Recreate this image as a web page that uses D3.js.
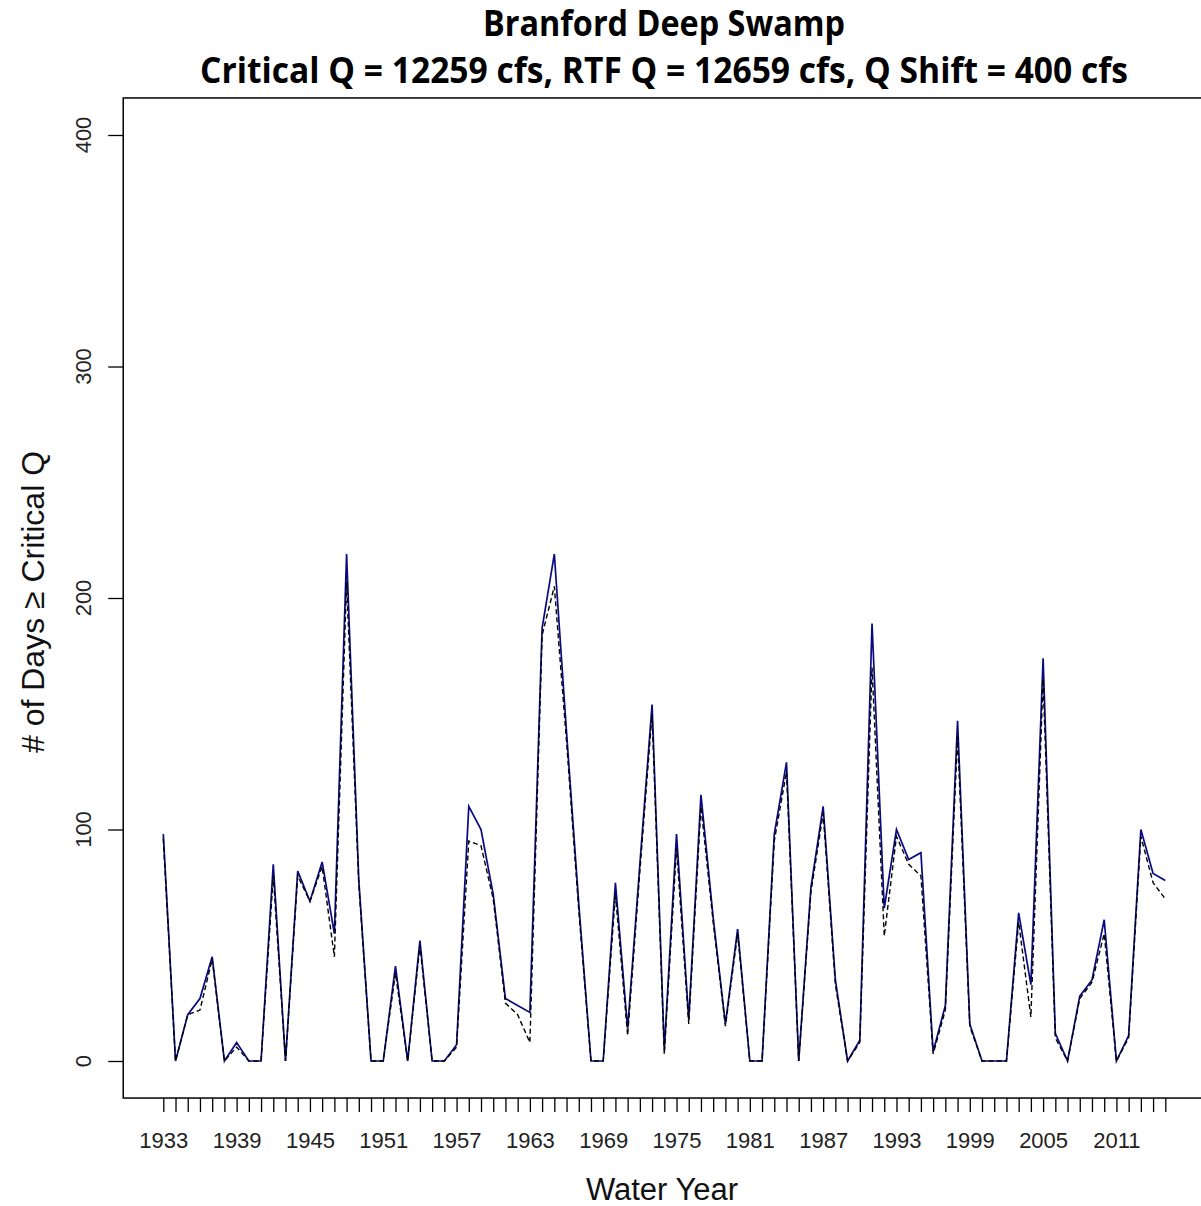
<!DOCTYPE html>
<html>
<head>
<meta charset="utf-8">
<script src="https://cdn.jsdelivr.net/npm/d3@7"></script>
<style>
    body { margin: 0; background: #fff; }
    svg { display: block; }
</style>
</head>
<body>
<script>
// water years on the x axis
const years = [
    1933, 1934, 1935, 1936, 1937, 1938, 1939, 1940, 1941, 1942,
    1943, 1944, 1945, 1946, 1947, 1948, 1949, 1950, 1951, 1952,
    1953, 1954, 1955, 1956, 1957, 1958, 1959, 1960, 1961, 1962,
    1963, 1964, 1965, 1966, 1967, 1968, 1969, 1970, 1971, 1972,
    1973, 1974, 1975, 1976, 1977, 1978, 1979, 1980, 1981, 1982,
    1983, 1984, 1985, 1986, 1987, 1988, 1989, 1990, 1991, 1992,
    1993, 1994, 1995, 1996, 1997, 1998, 1999, 2000, 2001, 2002,
    2003, 2004, 2005, 2006, 2007, 2008, 2009, 2010, 2011, 2012,
    2013, 2014, 2015
];

// days >= critical Q (solid blue line)
const baseDays = [
    98, 0, 20, 27, 45, 0, 8, 0, 0, 85,
    0, 82, 69, 86, 55, 219, 78, 0, 0, 41,
    0, 52, 0, 0, 7, 110, 100, 72, 27, 24,
    21, 187, 219, 142, 68, 0, 0, 77, 14, 85,
    154, 5, 98, 18, 115, 62, 16, 57, 0, 0,
    98, 129, 0, 75, 110, 35, 0, 9, 189, 66,
    100, 87, 90, 4, 24, 147, 16, 0, 0, 0,
    64, 33, 174, 12, 0, 28, 35, 61, 0, 11,
    100, 81, 78
];

// days >= critical Q with the RTF shift (dashed black line)
const shiftDays = [
    96, 0, 20, 22, 44, 0, 6, 0, 0, 80,
    0, 80, 69, 84, 45, 207, 76, 0, 0, 38,
    0, 50, 0, 0, 6, 95, 93, 70, 25, 20,
    8, 184, 205, 138, 65, 0, 0, 72, 11, 82,
    150, 3, 92, 16, 110, 60, 15, 55, 0, 0,
    95, 125, 0, 73, 107, 33, 0, 8, 170, 54,
    97, 85, 80, 3, 22, 140, 15, 0, 0, 0,
    60, 19, 165, 10, 0, 27, 34, 55, 0, 10,
    97, 77, 70
];

const yTicks = [0, 100, 200, 300, 400];
const labelYears = [1933, 1939, 1945, 1951, 1957, 1963, 1969, 1975, 1981, 1987, 1993, 1999, 2005, 2011];

const width = 1201;
const height = 1206;

const svg = d3.select('body').append('svg')
    .attr('width', width)
    .attr('height', height);

const x = d3.scaleLinear().domain([1933, 2015]).range([163.3, 1165.3]);
const y = d3.scaleLinear().domain([0, 400]).range([1061, 135]);

// R style 4% padding around the data range
const padX = (2015 - 1933) * 0.04;
const padY = 400 * 0.04;
const boxLeft = x(1933 - padX), boxRight = x(2015 + padX);
const boxTop = y(400 + padY), boxBottom = y(-padY);

// plot box
svg.append('rect')
    .attr('x', boxLeft)
    .attr('y', boxTop)
    .attr('width', boxRight - boxLeft)
    .attr('height', boxBottom - boxTop)
    .attr('fill', 'none')
    .attr('stroke', '#000')
    .attr('stroke-width', 1.5);

// x axis, one tick per year, a label every 6 years
const xAxis = svg.append('g')
    .attr('transform', `translate(0,${boxBottom})`)
    .call(d3.axisBottom(x)
        .tickValues(years)
        .tickSize(14)
        .tickFormat(d => labelYears.includes(d) ? String(d) : ''));
xAxis.select('.domain').remove();
xAxis.selectAll('line').attr('stroke', '#000').attr('stroke-width', 1.3);
xAxis.selectAll('text')
    .attr('y', 50)
    .attr('dy', 0)
    .attr('fill', '#222')
    .style('font-family', 'Liberation Sans, Arial, sans-serif')
    .style('font-size', '22px');

// y axis with rotated labels
const yAxis = svg.append('g')
    .attr('transform', `translate(${boxLeft},0)`)
    .call(d3.axisLeft(y).tickValues(yTicks).tickSize(15).tickFormat(''));
yAxis.select('.domain').remove();
yAxis.selectAll('line').attr('stroke', '#000').attr('stroke-width', 1.3);

svg.append('g').selectAll('text')
    .data(yTicks)
    .enter().append('text')
    .attr('transform', d => `translate(91,${y(d)}) rotate(-90)`)
    .attr('text-anchor', 'middle')
    .attr('fill', '#222')
    .style('font-family', 'Liberation Sans, Arial, sans-serif')
    .style('font-size', '22px')
    .text(d => d);

// lines
const line = vals => d3.line()
    .x((d, i) => x(years[i]))
    .y(d => y(d))(vals);

svg.append('path')
    .attr('d', line(baseDays))
    .attr('fill', 'none')
    .attr('stroke', '#0a0a80')
    .attr('stroke-width', 1.7);

svg.append('path')
    .attr('d', line(shiftDays))
    .attr('fill', 'none')
    .attr('stroke', '#000')
    .attr('stroke-width', 1.4)
    .attr('stroke-dasharray', '5,3');

// titles
svg.append('text')
    .attr('x', 664)
    .attr('y', 36)
    .attr('text-anchor', 'middle')
    .attr('textLength', 362)
    .attr('lengthAdjust', 'spacingAndGlyphs')
    .style('font-family', 'Liberation Sans Narrow, Open Sans, sans-serif')
    .style('font-weight', 'bold')
    .style('font-size', '35px')
    .text('Branford Deep Swamp');

svg.append('text')
    .attr('x', 664)
    .attr('y', 83)
    .attr('text-anchor', 'middle')
    .attr('textLength', 928)
    .attr('lengthAdjust', 'spacingAndGlyphs')
    .style('font-family', 'Liberation Sans Narrow, Open Sans, sans-serif')
    .style('font-weight', 'bold')
    .style('font-size', '35px')
    .text('Critical  Q = 12259 cfs, RTF Q = 12659 cfs, Q Shift = 400 cfs');

svg.append('text')
    .attr('x', 662)
    .attr('y', 1200)
    .attr('text-anchor', 'middle')
    .attr('fill', '#111')
    .style('font-family', 'Liberation Sans, Arial, sans-serif')
    .style('font-size', '31px')
    .text('Water Year');

svg.append('text')
    .attr('transform', 'translate(44,602) rotate(-90)')
    .attr('text-anchor', 'middle')
    .attr('fill', '#111')
    .style('font-family', 'Liberation Sans, Arial, sans-serif')
    .style('font-size', '32px')
    .text('# of Days \u2265 Critical Q');
</script>
</body>
</html>
